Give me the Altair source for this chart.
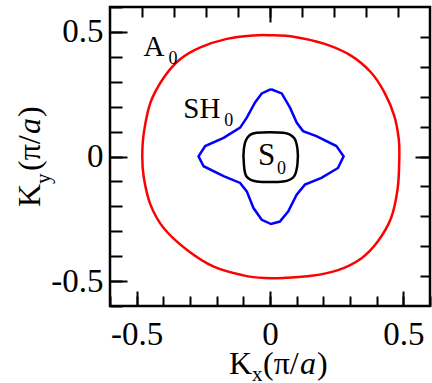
import altair as alt
import pandas as pd

# Closed equi-frequency contours in the (Kx, Ky) plane, units of pi/a
a0_kx = [0.0, 0.093, 0.205, 0.305, 0.379, 0.429, 0.466, 0.483, 0.485, 0.479, 0.454, 0.404,
         0.342, 0.255, 0.156, 0.056, -0.019, -0.100, -0.211, -0.311, -0.398, -0.448, -0.473,
         -0.479, -0.473, -0.448, -0.398, -0.336, -0.261, -0.162, -0.062]
a0_ky = [0.487, 0.480, 0.452, 0.404, 0.337, 0.257, 0.163, 0.069, 0.0, -0.126, -0.247, -0.341,
         -0.409, -0.456, -0.479, -0.487, -0.488, -0.477, -0.442, -0.375, -0.288, -0.194, -0.086,
         0.0, 0.096, 0.217, 0.317, 0.391, 0.438, 0.472, 0.486]

sh0_kx = [0.004, 0.044, 0.075, 0.100, 0.124, 0.174, 0.249, 0.276, 0.255, 0.193, 0.131, 0.100,
          0.068, 0.037, 0.004, -0.031, -0.062, -0.087, -0.112, -0.174, -0.249, -0.268, -0.243,
          -0.174, -0.112, -0.087, -0.056, -0.031, 0.004]
sh0_ky = [0.270, 0.253, 0.196, 0.136, 0.102, 0.082, 0.042, 0.001, -0.046, -0.086, -0.113, -0.153,
          -0.221, -0.261, -0.271, -0.254, -0.207, -0.140, -0.106, -0.079, -0.039, 0.001, 0.042,
          0.075, 0.116, 0.156, 0.217, 0.253, 0.270]

s0_kx = [-0.050, 0.050, 0.090, 0.103, 0.103, 0.090, 0.050, -0.050, -0.088, -0.098, -0.098, -0.085]
s0_ky = [0.095, 0.095, 0.075, 0.030, -0.030, -0.080, -0.100, -0.100, -0.080, -0.030, 0.030, 0.075]

# Mode labels: main letters and their subscripts (baseline-left anchors)
mode_text = ["A", "SH", "S"]
mode_x = [-0.474, -0.325, -0.045]
mode_y = [0.403, 0.153, -0.036]
mode_size = [29, 29, 31]
sub_text = ["0", "0", "0"]
sub_x = [-0.381, -0.172, 0.026]
sub_y = [0.371, 0.121, -0.069]

x_major = [-0.5, 0.0, 0.5]
x_minor = [-0.6, -0.5, -0.4, -0.3, -0.2, -0.1, 0.0, 0.1, 0.2, 0.3, 0.4, 0.5, 0.6]
top_minor = [-0.48, -0.36, -0.24, -0.12, 0.0, 0.12, 0.24, 0.36, 0.48]
top_major = [0.0]

SERIF = "Liberation Serif"
W, H = 320, 299
DOM = [-0.6, 0.6]

LABEL_EXPR = ("datum.value < 0 ? '-' + format(-datum.value, '.1f') : "
              "(datum.value == 0 ? '0' : format(datum.value, '.1f'))")


def axis(orient, values, size, labels=False, pad=0):
    kw = dict(orient=orient, values=values, tickSize=size, offset=-size, domain=False,
              grid=False, title=None, ticks=True, tickColor="black", tickWidth=2,
              labels=labels)
    if labels:
        kw.update(labelFont=SERIF, labelFontSize=33, labelColor="black",
                  labelPadding=pad, labelExpr=LABEL_EXPR, labelFlush=False,
                  labelOverlap=False, labelBound=False)
    return alt.Axis(**kw)


def curve(kx, ky, color, xaxis, yaxis, interp):
    df = pd.DataFrame({"kx": kx, "ky": ky, "i": range(len(kx))})
    return alt.Chart(df).mark_line(color=color, strokeWidth=2.5, interpolate=interp).encode(
        x=alt.X("kx:Q", scale=alt.Scale(domain=DOM, nice=False, zero=False), axis=xaxis),
        y=alt.Y("ky:Q", scale=alt.Scale(domain=DOM, nice=False, zero=False), axis=yaxis),
        order="i:Q",
    )


red = curve(a0_kx, a0_ky, "#ff0000",
            axis("bottom", x_major, 15, labels=True, pad=12),
            axis("left", x_major, 17, labels=True, pad=7), "cardinal-closed")
blue = curve(sh0_kx, sh0_ky, "#0000ff",
             axis("bottom", x_minor, 10), axis("left", x_minor, 12), "linear")
black = curve(s0_kx, s0_ky, "black",
              axis("top", top_minor, 10), axis("right", top_minor, 10), "cardinal-closed")

modes = pd.DataFrame({"t": mode_text, "x": mode_x, "y": mode_y, "s": mode_size})
subs = pd.DataFrame({"t": sub_text, "x": sub_x, "y": sub_y})

mode_labels = alt.Chart(modes).mark_text(
    font=SERIF, align="left", baseline="alphabetic", color="black"
).encode(
    x=alt.X("x:Q", scale=alt.Scale(domain=DOM, nice=False, zero=False),
            axis=axis("top", top_major, 15)),
    y=alt.Y("y:Q", scale=alt.Scale(domain=DOM, nice=False, zero=False),
            axis=axis("right", top_major, 15)),
    text="t:N",
    size=alt.Size("s:Q", scale=None, legend=None),
)
sub_labels = alt.Chart(subs).mark_text(
    font=SERIF, align="left", baseline="alphabetic", color="black", fontSize=18
).encode(
    x=alt.X("x:Q", scale=alt.Scale(domain=DOM, nice=False, zero=False), axis=None),
    y=alt.Y("y:Q", scale=alt.Scale(domain=DOM, nice=False, zero=False), axis=None),
    text="t:N",
)

one = pd.DataFrame({"k": [0]})


def piece(txt, px, py, size, italic=False, angle=0):
    kw = dict(font=SERIF, fontSize=size, align="left", baseline="alphabetic",
              color="black")
    if italic:
        kw["fontStyle"] = "italic"
    if angle:
        kw["angle"] = angle
    return alt.Chart(one).mark_text(**kw).encode(
        x=alt.value(px), y=alt.value(py), text=alt.value(txt))


# Axis titles: K_x(pi/a) below, K_y(pi/a) rotated on the left
title_parts = [
    piece("K", 119, 367, 32),
    piece("x", 142, 374, 21),
    piece("(\u03c0/", 153, 367, 32),
    piece("a", 190, 367, 32, italic=True),
    piece(")", 207, 367, 32),
    piece("K", -70, 200, 32, angle=270),
    piece("y", -60, 177, 21, angle=270),
    piece("(\u03c0/", -70, 164, 32, angle=270),
    piece("a", -70, 127, 32, italic=True, angle=270),
    piece(")", -70, 110, 32, angle=270),
]

chart = alt.layer(red, blue, black, mode_labels, sub_labels, *title_parts).resolve_scale(
    x="shared", y="shared"
).resolve_axis(
    x="independent", y="independent"
).properties(
    width=W, height=H,
    autosize=alt.AutoSizeParams(type="none"),
    padding={"left": 110, "top": 7, "right": 2, "bottom": 77},
    background="white",
).configure_view(
    stroke="black", strokeWidth=2.5
).configure_axis(
    labelFont=SERIF, labelFontSize=33, labelColor="black"
).configure_text(
    font=SERIF
)

chart.save("out.html", embed_options={"renderer": "svg", "actions": False})
